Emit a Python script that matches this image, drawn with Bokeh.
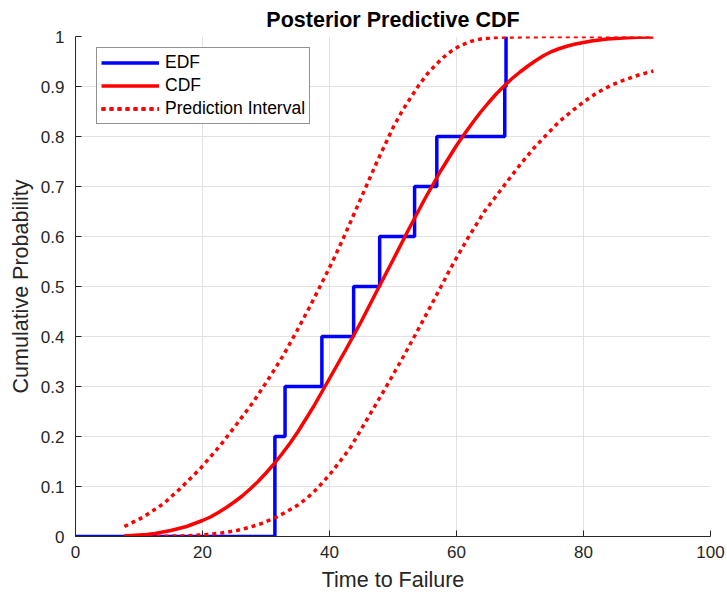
from bokeh.plotting import figure
from bokeh.models import (Range1d, FixedTicker, NumeralTickFormatter,
                          Legend, LegendItem)
from bokeh.embed import file_html
from bokeh.resources import INLINE

# Empirical distribution of the observed failure times
edf_time = [0, 31.4, 33.0, 38.8, 43.8, 47.9, 53.4, 56.9, 67.6, 67.8]
edf_prob = [0, 0.2, 0.3, 0.4, 0.5, 0.6, 0.7, 0.8, 0.9, 1.0]

# Posterior predictive CDF
cdf_time = [7.7, 8.85, 10, 11.25, 12.5, 13.75, 15, 16.25, 17.5, 18.75, 20,
            21.25, 22.5, 23.75, 25, 26.25, 27.5, 28.75, 30, 31.25, 32.5,
            33.75, 35, 37.5, 40, 42.5, 45, 47.5, 50, 52.5, 55, 57.5, 60,
            61.25, 62.5, 63.75, 65, 66.25, 67.5, 68.75, 70, 71.25, 72.5,
            73.75, 75, 76.25, 77.5, 78.75, 80, 81.25, 82.5, 83.75, 85, 86.25,
            87.5, 88.75, 91]
cdf_prob = [0.001, 0.002, 0.003, 0.004, 0.006, 0.009, 0.012, 0.016, 0.020,
            0.026, 0.032, 0.039, 0.048, 0.058, 0.069, 0.081, 0.095, 0.110,
            0.127, 0.145, 0.165, 0.186, 0.209, 0.260, 0.316, 0.372, 0.430,
            0.492, 0.553, 0.615, 0.675, 0.731, 0.782, 0.805, 0.827, 0.848,
            0.867, 0.885, 0.901, 0.916, 0.929, 0.941, 0.952, 0.962, 0.970,
            0.976, 0.981, 0.985, 0.988, 0.991, 0.993, 0.995, 0.996, 0.997,
            0.998, 0.9985, 0.999]

# Prediction interval bounds
upper_time = [7.7, 10.7, 13.9, 16.5, 19.6, 22.8, 25.4, 28.0, 30.7, 32.8, 34.9,
              37.0, 39.1, 40.7, 42.2, 44.9, 47.5, 50.1, 51.4, 52.8, 54.1,
              55.4, 56.7, 58.0, 59.3, 60.6, 62.2, 63.8, 66.0, 68.0, 75, 85,
              91]
upper_prob = [0.020, 0.039, 0.066, 0.096, 0.135, 0.182, 0.225, 0.269, 0.321,
              0.364, 0.412, 0.462, 0.515, 0.556, 0.597, 0.675, 0.750, 0.820,
              0.850, 0.878, 0.903, 0.925, 0.943, 0.959, 0.972, 0.982, 0.990,
              0.995, 0.998, 0.999, 1.0, 1.0, 1.0]

lower_time = [7.7, 12, 16, 18.4, 20.7, 23.0, 25.4, 27.3, 29.1, 31.7, 33.3,
              34.9, 36.5, 38.0, 40.1, 41.7, 43.3, 45.9, 48.5, 51.2, 53.8,
              56.4, 59.1, 61.7, 64.4, 67.5, 70.1, 72.2, 74.3, 76.1, 78.0,
              80.1, 82.2, 84.3, 86.4, 88.7, 91]
lower_prob = [0.000, 0.000, 0.001, 0.002, 0.004, 0.007, 0.012, 0.018, 0.025,
              0.039, 0.050, 0.062, 0.077, 0.095, 0.125, 0.151, 0.178, 0.234,
              0.290, 0.350, 0.410, 0.472, 0.537, 0.595, 0.650, 0.702, 0.745,
              0.777, 0.805, 0.829, 0.849, 0.870, 0.888, 0.902, 0.913, 0.923,
              0.931]

x_ticks = [0, 20, 40, 60, 80, 100]
y_ticks = [0, 0.1, 0.2, 0.3, 0.4, 0.5, 0.6, 0.7, 0.8, 0.9, 1]

FONT = "Liberation Sans"
INK = "#262626"

p = figure(width=727, height=595, output_backend="svg", toolbar_location=None,
           x_range=Range1d(0, 100), y_range=Range1d(0, 1),
           min_border_left=75, min_border_right=17, min_border_top=36,
           min_border_bottom=59, title="Posterior Predictive CDF")
p.outline_line_color = None
p.background_fill_color = "white"
p.border_fill_color = "white"

p.title.text_font = FONT
p.title.text_font_size = "21.5px"
p.title.text_font_style = "bold"
p.title.text_color = "black"
p.title.align = "center"
p.title.standoff = 10

p.xaxis.ticker = FixedTicker(ticks=x_ticks)
p.yaxis.ticker = FixedTicker(ticks=y_ticks)
p.yaxis.formatter = NumeralTickFormatter(format="0.[0]")

for ax in (p.xaxis, p.yaxis):
    ax.axis_line_color = INK
    ax.major_tick_line_color = INK
    ax.major_tick_in = 6
    ax.major_tick_out = 0
    ax.minor_tick_line_color = None
    ax.major_label_text_font = FONT
    ax.major_label_text_font_size = "17px"
    ax.major_label_text_color = INK
    ax.axis_label_text_font = FONT
    ax.axis_label_text_font_size = "21.5px"
    ax.axis_label_text_font_style = "normal"
    ax.axis_label_text_color = INK

p.xaxis.major_label_standoff = 9
p.yaxis.major_label_standoff = 11
p.xaxis.axis_label = "Time to Failure"
p.yaxis.axis_label = "Cumulative Probability"
p.xaxis.axis_label_standoff = 7
p.yaxis.axis_label_standoff = 5

p.grid.grid_line_color = "#e2e2e2"
p.grid.grid_line_width = 1

r_edf = p.step(edf_time, edf_prob, mode="after", line_color="#0000ff",
               line_width=3.5)
r_cdf = p.line(cdf_time, cdf_prob, line_color="#ff0000", line_width=3.5)
r_up = p.line(upper_time, upper_prob, line_color="#ff0000", line_width=3.5,
              line_dash="4 4")
r_lo = p.line(lower_time, lower_prob, line_color="#ff0000", line_width=3.5,
              line_dash="4 4")

legend = Legend(
    items=[LegendItem(label="EDF", renderers=[r_edf]),
           LegendItem(label="CDF", renderers=[r_cdf]),
           LegendItem(label="Prediction Interval", renderers=[r_up, r_lo])],
    location=(21, 412), orientation="vertical",
    label_text_font=FONT, label_text_font_size="17.5px",
    label_text_color="black",
    border_line_color=INK, border_line_width=1,
    background_fill_color="white", background_fill_alpha=1.0,
    padding=4, spacing=2, margin=0,
    glyph_width=58, glyph_height=17, label_height=17, label_standoff=6,
)
p.add_layout(legend)

open("out.html", "w").write(file_html(p, INLINE))
